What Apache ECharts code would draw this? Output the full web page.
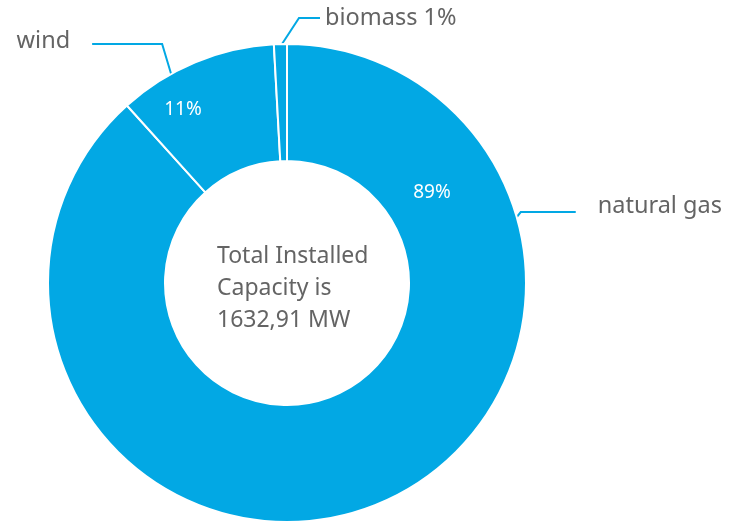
<!DOCTYPE html>
<html>
<head>
<meta charset="utf-8">
<script src="https://cdn.jsdelivr.net/npm/echarts@6/dist/echarts.min.js"></script>
<style>
  html, body { margin: 0; padding: 0; background: #fff; }
  #capacity { width: 731px; height: 522px; }
</style>
</head>
<body>
<div id="capacity"></div>
<script>
// installed capacity by source (MW)
var categories = ['natural gas', 'wind', 'biomass']
var capacityMW = [1442.2, 176.4, 14.3]
var percentLabels = ['89%', '11%', '']
var sourceLabels = ['natural gas', 'wind', 'biomass 1%']
var centerLines = ['Total Installed', 'Capacity is', '1632,91 MW']

var BLUE = '#02a8e4'
var GREY = '#646464'
var CX = 287, CY = 283, R_IN = 122, R_OUT = 239

// label placement: angle (deg, clockwise from 12 o'clock) and radius
var innerPos = [[58, 171], [-31, 202], [-2, 180]]
// leader: anchor angle, elbow offset, horizontal run, label gap
var leaders = [
  {angle: 74, elbow: [4, -5], run: 55, gap: 22, dy: -6},
  {angle: -29, elbow: [-9, -30], run: -70, gap: -22, dy: -3},
  {angle: -1.2, elbow: [17, -26], run: 21, gap: 5, dy: 0}
]

function polar(deg, r) {
  var a = deg * Math.PI / 180
  return [CX + r * Math.sin(a), CY - r * Math.cos(a)]
}

var data = categories.map(function (c, i) {
  return {name: c, value: capacityMW[i]}
})

var myChart = echarts.init(document.getElementById('capacity'))
var option = {
  backgroundColor: '#fff',
  animation: false,
  color: [BLUE],
  title: {
    text: centerLines.join('\n'),
    left: 217,
    top: 240,
    padding: 0,
    textStyle: {
      fontFamily: 'Noto Sans',
      fontWeight: 'normal',
      fontSize: 23,
      lineHeight: 32,
      color: GREY
    }
  },
  series: [
    {
      name: 'capacity',
      type: 'pie',
      center: [CX, CY],
      radius: [R_IN, R_OUT],
      startAngle: 90,
      clockwise: true,
      avoidLabelOverlap: false,
      itemStyle: {color: BLUE, borderColor: '#fff', borderWidth: 2},
      label: {
        show: true,
        position: 'inside',
        formatter: function (p) { return percentLabels[p.dataIndex] },
        color: '#fff',
        fontFamily: 'Noto Sans',
        fontSize: 19
      },
      labelLine: {show: false},
      labelLayout: function (p) {
        var pt = polar(innerPos[p.dataIndex][0], innerPos[p.dataIndex][1])
        return {x: pt[0], y: pt[1], align: 'center', verticalAlign: 'middle'}
      },
      data: data
    },
    {
      name: 'labels',
      type: 'pie',
      silent: true,
      center: [CX, CY],
      radius: [R_IN, R_OUT],
      startAngle: 90,
      clockwise: true,
      avoidLabelOverlap: false,
      itemStyle: {color: 'rgba(0,0,0,0)', borderWidth: 0},
      label: {
        show: true,
        position: 'outside',
        formatter: function (p) { return sourceLabels[p.dataIndex] },
        color: GREY,
        fontFamily: 'Noto Sans',
        fontSize: 23.5
      },
      labelLine: {
        show: true,
        lineStyle: {color: BLUE, width: 2}
      },
      labelLayout: function (p) {
        var l = leaders[p.dataIndex]
        var p0 = polar(l.angle, R_OUT)
        var p1 = [p0[0] + l.elbow[0], p0[1] + l.elbow[1]]
        var p2 = [p1[0] + l.run, p1[1]]
        return {
          x: p2[0] + l.gap,
          y: p2[1] + l.dy,
          align: l.run > 0 ? 'left' : 'right',
          verticalAlign: 'middle',
          labelLinePoints: [p0, p1, p2]
        }
      },
      data: data
    }
  ]
}
myChart.setOption(option)
</script>
</body>
</html>
